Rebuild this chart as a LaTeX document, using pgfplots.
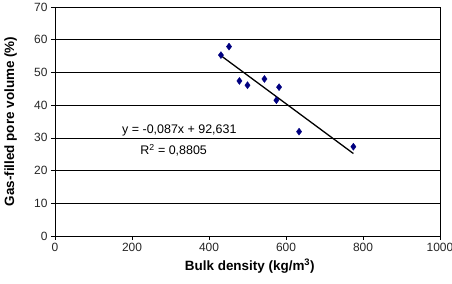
\documentclass[border=0pt]{standalone}
\usepackage{fontspec}
\setmainfont{Liberation Sans}
\usepackage{pgfplots}
\pgfplotsset{compat=1.18}
\begin{document}
\begin{tikzpicture}
\useasboundingbox (-55bp,-48bp) rectangle (397bp,236bp);
\begin{axis}[
  at={(0,0)}, anchor=south west,
  scale only axis, width=385bp, height=229bp,
  xmin=0, xmax=1000, ymin=0, ymax=70,
  xtick={0,200,...,1000}, ytick={0,10,...,70},
  ymajorgrids, grid style={black, line width=0.5pt},
  axis line style={black, line width=0.6pt},
  tick align=outside, xtick pos=left, ytick pos=left,
  major tick length=4bp,
  tick style={black, line width=0.5pt},
  /pgf/number format/assume math mode=true,
  /pgf/number format/1000 sep={},
  ticklabel style={font=\fontsize{12}{14}\selectfont, text=black!85},
  xlabel={\textbf{Bulk density (kg/m\textsuperscript{3})}},
  ylabel={\textbf{Gas-filled pore volume (\%)}},
  label style={font=\fontsize{13.5}{15}\selectfont},
  xlabel style={at={(axis description cs:0.506,-0.13)}, anchor=center},
  ylabel style={at={(axis description cs:-0.115,0.5)}, anchor=center, rotate=0},
]
\addplot[only marks, mark=diamond*, mark size=3.5pt, color={rgb,255:red,0;green,0;blue,128}] coordinates {
  (431,55.3) (452,57.9) (479,47.4) (500,46.1) (544,48.0) (582,45.5) (575,41.5) (634,31.9) (775,27.3)
};
\addplot[black, line width=1.3pt] coordinates {(431,55.13) (775,25.21)};
\node[font=\fontsize{12.5}{14}\selectfont, anchor=center] at (axis cs:323,32.4) {y = -0,087x + 92,631};
\node[font=\fontsize{12.5}{14}\selectfont, anchor=center] at (axis cs:308,26.3) {R\textsuperscript{2} = 0,8805};
\end{axis}
\end{tikzpicture}
\end{document}
